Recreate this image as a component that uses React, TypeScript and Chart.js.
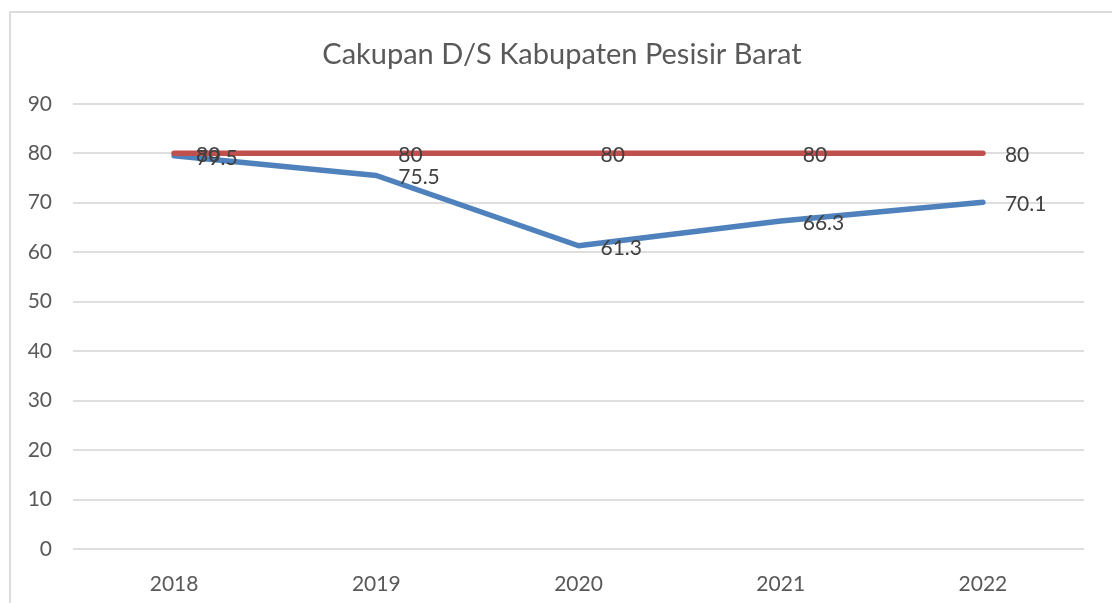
import React, { useEffect, useRef } from "react";
import { Chart, registerables } from "chart.js";

Chart.register(...registerables);

const years = ["2018", "2019", "2020", "2021", "2022"];
const cakupan = [79.5, 75.5, 61.3, 66.3, 70.1];
const target = [80, 80, 80, 80, 80];
const yTicksMin = 0;
const yTicksMax = 90;
const yTicksStep = 10;
const titleText = "Cakupan D/S Kabupaten Pesisir Barat";

const FONT = "Lato, 'Open Sans', sans-serif";

const dataLabelPlugin = {
  id: "dataLabels",
  afterLayout(chart: any) {
    // centre the title over the whole chart frame like the original
    if (chart.titleBlock) {
      chart.titleBlock.left = 40;
    }
  },
  afterDatasetsDraw(chart: any) {
    const ctx = chart.ctx;
    ctx.save();
    ctx.font = `21px ${FONT}`;
    ctx.fillStyle = "#404040";
    ctx.textAlign = "left";
    ctx.textBaseline = "middle";
    chart.data.datasets.forEach((ds: any, i: number) => {
      const meta = chart.getDatasetMeta(i);
      meta.data.forEach((pt: any, j: number) => {
        const v = ds.data[j];
        ctx.fillText(String(v), pt.x + 22, pt.y + 2);
      });
    });
    ctx.restore();
  },
};

export default function App() {
  const ref = useRef<HTMLCanvasElement | null>(null);

  useEffect(() => {
    if (!ref.current) return;
    const chart = new Chart(ref.current, {
      type: "line",
      data: {
        labels: years,
        datasets: [
          {
            label: "Target",
            data: target,
            borderColor: "#C0504D",
            backgroundColor: "#C0504D",
            borderWidth: 5.5,
            borderCapStyle: "round",
            borderJoinStyle: "round",
            pointRadius: 0,
            tension: 0,
          },
          {
            label: "Cakupan D/S",
            data: cakupan,
            borderColor: "#4F81BD",
            backgroundColor: "#4F81BD",
            borderWidth: 5.5,
            borderCapStyle: "round",
            borderJoinStyle: "round",
            pointRadius: 0,
            tension: 0,
          },
        ],
      },
      options: {
        animation: false,
        responsive: false,
        layout: { padding: { left: 0, right: 28, top: 0, bottom: 0 } },
        plugins: {
          legend: { display: false },
          tooltip: { enabled: false },
          title: {
            display: true,
            text: titleText,
            color: "#595959",
            font: { family: FONT, size: 29, weight: "normal" },
            padding: { top: 37, bottom: 32 },
          },
        },
        scales: {
          x: {
            offset: true,
            grid: { display: false, drawTicks: false },
            border: { display: false },
            ticks: {
              color: "#595959",
              font: { family: FONT, size: 21 },
              padding: 23,
              maxRotation: 0,
            },
            afterFit(scale: any) {
              scale.height = 54;
            },
          },
          y: {
            min: yTicksMin,
            max: yTicksMax,
            grid: { color: "#dedede", lineWidth: 2, drawTicks: false },
            border: { display: false },
            ticks: {
              stepSize: yTicksStep,
              color: "#595959",
              font: { family: FONT, size: 21 },
              padding: 21,
            },
            afterFit(scale: any) {
              scale.width = 73;
            },
          },
        },
      },
      plugins: [dataLabelPlugin],
    });
    return () => chart.destroy();
  }, []);

  return (
    <div
      style={{
        position: "fixed",
        left: 0,
        top: 0,
        width: 1112,
        height: 603,
        overflow: "hidden",
        background: "#fff",
      }}
    >
      <div
        style={{
          position: "absolute",
          left: 9,
          top: 11,
          width: 1200,
          height: 700,
          border: "2px solid #dcdcdc",
          boxSizing: "border-box",
        }}
      />
      <canvas
        ref={ref}
        width={1112}
        height={603}
        style={{ position: "absolute", left: 0, top: 0 }}
      />
    </div>
  );
}
